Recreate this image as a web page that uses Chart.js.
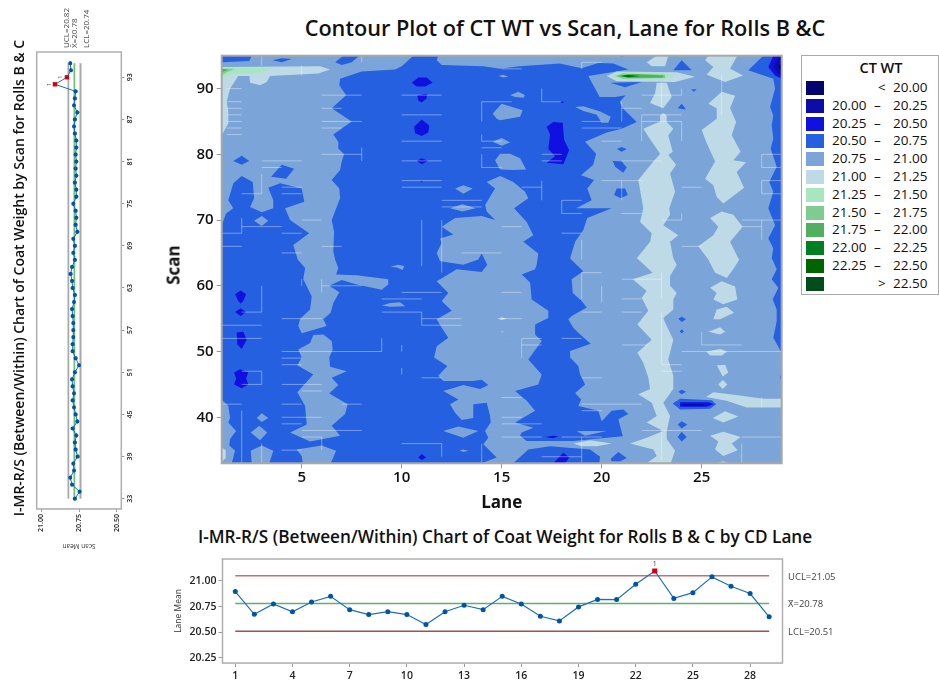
<!DOCTYPE html>
<html>
<head>
<meta charset="utf-8">
<title>Contour Plot of CT WT</title>
<script src="https://cdn.jsdelivr.net/npm/chart.js@4"></script>
<style>
  body { margin: 0; background: #fff; font-family: "Open Sans", sans-serif; color: #111; overflow: hidden; }
  .box { position: absolute; }
  canvas { display: block; }
  .heading { position: absolute; font-weight: 600; white-space: nowrap; text-align: center; }
  #legend { position: absolute; left: 801px; top: 55px; width: 136px; height: 238px; border: 1px solid #aaa; font-size: 13.5px; font-weight: 500; }
  #legend .ttl { position: absolute; left: 0; width: 100%; top: 2px; text-align: center; font-weight: 600; font-size: 14.5px; margin-left: 11px; }
  #legend .sw { position: absolute; left: 4px; width: 18px; height: 14px; }
  #legend span { position: absolute; white-space: nowrap; }
</style>
</head>
<body>
<div class="heading" id="mainTitle" style="left:265px;top:13px;width:600px;font-size:21.7px">Contour Plot of CT WT vs Scan, Lane for Rolls B &amp;C</div>
<div class="box" style="left:150px;top:40px"><canvas id="contour" width="650" height="480"></canvas></div>
<div class="heading" style="left:173px;top:265px;font-size:17px;font-weight:700;transform:translate(-50%,-50%) rotate(-90deg)">Scan</div>
<div id="legend"></div>

<div class="heading" id="laneTitle" style="left:198px;top:525px;width:600px;font-size:17.2px">I-MR-R/S (Between/Within) Chart of Coat Weight for Rolls B &amp; C by CD Lane</div>
<div class="box" style="left:160px;top:545px"><canvas id="laneChart" width="779" height="138"></canvas></div>

<!-- the scan chart is the same kind of chart, just turned on its side -->
<div class="box" id="scanWrap" style="left:0;top:560px;width:560px;height:160px;transform-origin:0 0;transform:rotate(-90deg)">
  <div class="heading" id="scanTitle" style="left:0;width:564px;top:9px;font-size:14px">I-MR-R/S (Between/Within) Chart of Coat Weight by Scan for Rolls B &amp; C</div>
  <canvas id="scanChart" width="560" height="160"></canvas>
</div>

<script>
// --- LEGEND ---
const levelLow = ['', '20.00', '20.25', '20.50', '20.75', '21.00', '21.25', '21.50', '21.75', '22.00', '22.25', ''];
const levelHigh = ['< 20.00', '20.25', '20.50', '20.75', '21.00', '21.25', '21.50', '21.75', '22.00', '22.25', '22.50', '> 22.50'];
const levelColors = ['#04046e', '#0c0ca8', '#1010e0', '#2460e0', '#7ba4d8', '#bedae6', '#a8e6c0', '#80cc90', '#50b060', '#008020', '#006400', '#004d1a'];

// --- CONTOUR AXES ---
const laneTicks = [5, 10, 15, 20, 25];
const scanTicks = [40, 50, 60, 70, 80, 90];

// --- CONTOUR REGIONS, as [lane, scan] outlines ---
const wholePlot = [[[1, 33], [29, 33], [29, 95], [1, 95]]];

// 20.50 - 20.75, the big connected region
const mainDark = [[
  [1, 95], [11.83, 95], [11.75, 94.3], [12, 93.6], [14.08, 93.4], [14.92, 93], [15.9, 93.4], [17.9, 93.8], [19, 93.1], [19.83, 93.9], [20.58, 93.8], [21.33, 92.9],
  [19.33, 91.9], [19.9, 88.7], [20.67, 88.7], [21.2, 89], [20.9, 88], [21.05, 87], [21.75, 84.9], [21, 83.9], [20.25, 83.3], [19.17, 81.9], [19.72, 80.1], [19.58, 78.4],
  [18.97, 76.8], [19.62, 76.1], [19.28, 74.8], [19.5, 73], [18.72, 71.8], [20.5, 71.8], [19.28, 70.3], [19.08, 68.5], [18.67, 66.7], [18.42, 64.2], [18.47, 64],
  [19.08, 62.2], [18.5, 61], [18.55, 58.9], [19, 57.7], [19.25, 56.7], [18.5, 55.4], [18.33, 54.9], [18.58, 53.6], [18.92, 52.6], [19.45, 51.2], [18.42, 50.1], [18.42, 49.1],
  [18.83, 47.8], [18.92, 46.5], [19.17, 45], [18.67, 43.7], [18.97, 42.7], [18.83, 41.7], [19.83, 41], [20, 39.4], [20.5, 41], [21.08, 41.2], [21.33, 40.5], [20.83, 39.7], [21.05, 37.2],
  [21.05, 37.1], [18.58, 36.4], [16.25, 36.4], [15.92, 37.2], [16, 37.7], [16.58, 38.4], [15.67, 39.2], [16.67, 41], [16.25, 42.5], [15.67, 44], [16.83, 45], [17, 46.5],
  [16.33, 48.8], [17, 51.6], [16.67, 52.6], [16.67, 54.1], [17.33, 55.1], [17.33, 56.2], [16.5, 57.9], [16.42, 60.5], [16, 61.7], [16.67, 62.5], [16.75, 63.2], [16.83, 64.9],
  [16.08, 66.7], [16.58, 67.7], [16.25, 69.7], [15.62, 71.8], [16.33, 73.3], [16.17, 74.3], [15.58, 75.8], [14.92, 76.7], [14.25, 75.8], [14.67, 74.8], [14.17, 72.3], [14.25, 71.3],
  [14.67, 70], [14, 70.6], [12.67, 70.3], [12, 69], [12.58, 67.8], [11.92, 67.2], [12, 66.5], [11.75, 65], [11.92, 63.75], [13.08, 63.2], [13.83, 64], [14, 64.9], [14.28, 63.2],
  [14, 62.1], [12.75, 62.5], [11.75, 60.7], [12.33, 58.9], [12, 57.7], [12.5, 56.2], [11.75, 54.9], [12, 53.6], [12.33, 52.1], [11.75, 50.8], [11.62, 49.1], [12.28, 47.8], [11.83, 46.3],
  [12.08, 45.5], [13.58, 45.5], [14, 45.7], [14.33, 44.9], [13.92, 44.3], [13.08, 44.9], [12.08, 44], [12.83, 42.7], [12.42, 42], [12.67, 40.7], [13, 39.6], [13.58, 39.9], [13.58, 42],
  [14.25, 42.2], [14.42, 40.2], [14.45, 39.2], [14.17, 37.9], [14.33, 36.9], [14.08, 35.9], [14.75, 33.9], [14, 33], [1, 33]
]];

// 20.75 - 21.00, patches lying on top of the big region
const lightPatches = [
  [[1, 95], [10.58, 95], [10, 93.4], [9.67, 92.9], [8, 92.6], [6.92, 91.5], [6.88, 90.5], [7.22, 89], [6.5, 87], [7.5, 85], [6.58, 83], [6.83, 81.9], [6.83, 80.9], [7.12, 80], [7, 78.9], [6.92, 77.6],
    [6.5, 76.1], [6.88, 74.8], [6.92, 73.3], [6.5, 70], [6.62, 68.2], [6.58, 65.2], [6.67, 64], [6.83, 62.7], [6.72, 61.7], [7.75, 61.6], [9.33, 61], [9.33, 60.2], [9, 59.4], [7.75, 60.2], [7, 60.9],
    [6.38, 60], [6.88, 59], [6.58, 57.4], [6.45, 55.9], [6.08, 54.9], [6.25, 53.9], [5, 52.8], [4.83, 53.9], [4.92, 55], [5.42, 56.4], [5.5, 58.4], [5.08, 61], [5.17, 62.7], [4.8, 64], [4.58, 66.2],
    [5.37, 68], [4.42, 70], [4.17, 71.8], [5.13, 72.8], [5, 74.8], [3.92, 75.6], [3.33, 74.9], [3.58, 73], [3.58, 71.8], [3, 71.2], [2.42, 72], [2.62, 73.3], [2.55, 75.8], [2, 76.7], [1.58, 75.6],
    [1.33, 73], [1.58, 71.8], [1.22, 71], [1, 69.2]],
  [[6.08, 52.6], [6.5, 51.6], [6.55, 50.3], [6.38, 49.1], [6.42, 47.7], [7.25, 47], [6.5, 46], [6.83, 44.9], [6.38, 43.6], [7.3, 42], [7.17, 40.5], [6.5, 38.7], [6.92, 37.2], [5.42, 36.3], [4.42, 37.7],
    [5.25, 38.9], [5.17, 41.7], [4.78, 43.8], [5.58, 46.5], [4.78, 47.9], [5, 49.1], [4.83, 50.3], [5.42, 51.3], [5.58, 52.5]],
  [[4.75, 35.1], [6, 35.7], [6.72, 34.9], [6.45, 33], [5.05, 33], [5, 34.1]],
  [[2.45, 34.9], [3, 35.7], [3.58, 34.9], [3.38, 33], [2.5, 33]],
  [[2.45, 37.7], [2.88, 38.7], [3.28, 37.7], [2.92, 36.5]],
  [[2.75, 39.9], [3, 40.6], [3.33, 39.9], [3, 39.3]],
  [[1, 42.7], [1.33, 41.7], [1.42, 39.9], [1.33, 39.2], [1.72, 37.9], [1.42, 36.7], [1.38, 35.7], [1.67, 34.9], [1.5, 33], [1, 33]],
  [[2.62, 69.9], [3, 70.6], [3.33, 69.9], [3, 69.1]],
  [[9.42, 62.9], [9.83, 63.2], [10.12, 63], [10.05, 62.4], [9.75, 62.8]],
  [[9, 57], [9.42, 57.4], [9.92, 57.5], [10.17, 56.9], [9.42, 56.8]],
  [[12.08, 37.9], [12.83, 38.6], [13.83, 37.9], [13.08, 36.9]],
  [[12.9, 35], [13.08, 35.1], [13.33, 34.9], [13.08, 34.7]],
  [[12.67, 74.8], [13.08, 75.3], [13.55, 74.8], [13.08, 74]],
  [[12.42, 71.8], [13.03, 72.4], [13.7, 71.8], [13.03, 71.3]],
  [[14.55, 86.2], [15, 87.7], [16.05, 86.7], [15.92, 85.7], [14.92, 85.2], [14.75, 85.4]],
  [[14.55, 81.9], [15, 82.5], [15.42, 81.8], [15, 81.3]],
  [[14.67, 79.1], [14.92, 80.1], [15.42, 80.1], [15.92, 79.4], [16.22, 77.7], [15.58, 77.6], [14.92, 77.7], [14.75, 78.6]],
  [[14.83, 91.9], [15.08, 92.1], [15.33, 91.8], [15.08, 91.7]],
  [[15.42, 89], [15.83, 89.5], [16.17, 89], [16.08, 88.6], [15.67, 88.7]],
  [[18.67, 87.2], [19.08, 87.3], [19.92, 86.5], [20.45, 85.7], [20.33, 84.8], [20, 84.8], [19.75, 86], [19.08, 86.6]],
  [[18.75, 37.9], [20.25, 37.9], [19.17, 37.2]],
  [[15.18, 51.7], [15.4, 51.8], [15.5, 51.5], [15.25, 51.4]]
];

// 20.50 - 20.75 again, islands in the lighter areas
const darkIslands = [
  [[1.58, 79], [2, 79.8], [2.38, 79], [2, 78.4]],
  [[3.47, 76.6], [4, 78.4], [4.62, 77.8], [4.22, 76.3]],
  [[1, 95], [2.5, 95], [2.38, 94.2], [1, 94]],
  [[3.55, 94.3], [4, 94.6], [4.5, 94.5], [4, 94]],
  [[6.67, 94], [7.08, 95], [7.88, 95], [7.5, 94], [7, 93.6]],
  [[15.58, 33], [16.33, 35.1], [17.42, 35.6], [19.42, 35.1], [19.92, 34], [19.88, 33]],
  [[20.45, 33.7], [20.83, 34.7], [21.25, 33.8], [20.92, 33.3], [20.5, 33.3]],
  [[20.75, 80.8], [21, 81.1], [21.25, 80.8], [21, 80.4]],
  [[20.55, 79], [21, 78.9], [21.25, 78], [21.08, 77.2], [20.67, 78.1]],
  [[20.62, 73.8], [20.75, 74.8], [21.17, 74.8], [21.3, 73.8], [20.95, 73.3]],
  [[23.58, 92.8], [24, 94.3], [24.5, 92.8]],
  [[23.8, 87], [24, 87.7], [24.22, 86.8]],
  [[24.47, 89.9], [24.75, 89.9], [24.6, 89.5]],
  [[20.88, 95], [21.17, 95], [21, 94.8]],
  [[23.83, 55], [24, 55.3], [24.22, 54.9], [24, 54.5]],
  [[23.9, 53], [24, 53.4], [24.12, 53], [24, 52.8]],
  [[23.83, 43.9], [24, 44.2], [24.22, 43.9], [24, 43.5]],
  [[23.8, 38.9], [24, 39.4], [24.28, 38.9], [24, 38.3]],
  [[23.8, 37], [24, 37.8], [24.25, 37], [24, 36.3]],
  [[23.55, 42.1], [23.92, 42.8], [25.5, 42.6], [25.72, 42], [25.42, 41.3], [23.92, 41.2]],
  [[20.42, 90.9], [21.17, 90.2], [22, 91]],
  [[27.33, 92.8], [28.08, 95], [29, 95], [29, 49.8], [28.58, 52.1], [28.75, 54.6], [28.75, 56.4], [28.55, 57.9], [28.83, 59.7], [28.5, 61], [28.75, 62.5], [28.58, 63.7], [28.5, 64.2], [28.58, 65.7],
    [28.33, 67.2], [28.67, 69.2], [28.33, 71.8], [28.58, 74.3], [28.38, 75.8], [28.75, 78.1], [28.45, 80.9], [28.58, 82.4], [28.5, 84.4], [28.58, 85.9], [28.42, 87.2], [28.67, 90], [28.58, 91.5]],
  [[29, 47], [28.92, 46], [29, 45.5]]
];

// 21.00 - 21.25
const paleBands = [
  [[1, 93.3], [5.92, 93.4], [6.42, 92.9], [5.83, 92.3], [3.42, 91.9], [3.25, 91], [2.92, 90.5], [2.42, 90.9], [2.38, 91.9], [1.83, 91.9], [1.42, 90], [1.25, 88], [1.33, 86.5], [1.33, 84.7], [1, 82.9]],
  [[1, 35.4], [1.2, 35], [1.2, 33.8], [1, 33.2]],
  [[22.25, 94], [22.75, 95], [23.33, 95], [23.17, 93.4], [22.5, 93.4]],
  [[20.25, 91.9], [20.75, 92.6], [23.75, 92.5], [24.67, 91.8], [23.67, 91], [20.75, 91.1]],
  [[22.75, 90.9], [23.25, 90.9], [23.5, 88.7], [23.08, 87], [22.42, 87.8], [22.67, 89.3]],
  [[22.92, 85.9], [23.08, 86.3], [23.25, 85.9], [23.25, 84.9], [23.58, 83.9], [23.33, 82.9], [23.55, 80.4], [23.33, 79.9], [23.72, 78.4], [23.42, 77.1], [23.67, 74.3], [23.38, 71.8], [23.42, 70.8],
    [23.08, 69.2], [23.83, 67.7], [23.42, 66.7], [23.58, 64.2], [23.75, 63.2], [23.42, 61.5], [23.42, 60], [23.75, 58.9], [23.58, 57.9], [23.58, 56.4], [23.08, 55.1], [23.17, 54.4], [23.58, 51.8],
    [23.33, 48.8], [23.58, 46.3], [23.58, 44.3], [23.08, 42.2], [23.42, 40.2], [23.25, 37.9], [23.25, 36.7], [23.67, 34.9], [23.45, 33], [22.25, 33], [22.75, 34.1], [22.58, 35.1], [21.42, 36], [22.25, 36.9],
    [23.08, 37.9], [22.25, 39.2], [22.75, 40.2], [22.5, 42.2], [21.83, 43.5], [22.42, 44.3], [22.33, 46], [22.08, 48.3], [21.78, 49.8], [22.5, 51.8], [21.78, 54.1], [22.33, 56.2], [22, 58.2], [22.25, 59.2],
    [21.55, 61], [22.55, 62], [21.83, 64], [21.75, 64.2], [22.42, 66.7], [22.5, 68], [21.92, 69.7], [22.08, 71.8], [21.83, 76.1], [22.5, 78.6], [22.92, 80.1], [22.33, 82.7], [22.08, 83.9], [22.92, 85]],
  [[25.17, 94.3], [25.33, 95], [26.78, 95], [26.42, 93], [27.08, 92], [26.17, 91], [25.25, 92.1], [25.58, 93.3]],
  [[25.33, 87.7], [26, 89.5], [26.67, 88.9], [26.42, 87], [26.72, 84.9], [26.5, 82.9], [26.95, 80.4], [26.58, 79.1], [27.22, 78.8], [26.75, 77.3], [27.12, 74.9], [26.08, 72.5], [25.75, 73.5], [25.58, 75.3],
    [25.17, 76.3], [25.67, 78.9], [25.22, 81.9], [25, 83.7], [25.75, 85.4], [25.75, 87]],
  [[25.42, 70.3], [26, 71.3], [26.58, 70.8], [27.05, 69], [26.42, 66.7], [26.83, 64.2], [26.88, 64], [26.58, 62.5], [26.25, 61.2], [25.67, 62], [25.33, 64], [24.83, 66], [25.58, 67.7], [25.83, 69]],
  [[25.42, 59.7], [26, 60.7], [26.67, 59.9], [26.78, 57.9], [26.08, 57.2], [25.58, 57.9], [25.75, 58.9]],
  [[25.75, 56.4], [26.25, 56.8], [26.62, 55.9], [25.92, 54.9], [25.58, 54.9]],
  [[25.33, 53], [25.92, 53.7], [26.17, 53], [25.92, 52.6]],
  [[25.22, 50], [25.92, 50.4], [26.28, 50], [26, 49.4], [25.42, 49.4]],
  [[25.75, 47.9], [26.17, 48], [26.33, 46.8], [26.05, 46.2]],
  [[25.83, 45], [26.05, 45.7], [26.28, 45], [26.05, 44.3]],
  [[25.22, 43.1], [25.58, 43.8], [26.42, 43.5], [28.08, 42.8], [29, 42.8], [29, 41.5], [27.25, 41.5], [26.25, 42.5]],
  [[25.55, 39.9], [26.17, 40.9], [26.83, 40.1], [26.08, 39.2]],
  [[25.42, 37.2], [26.08, 37.8], [26.95, 37], [26.5, 36], [26.8, 35], [26.08, 34.1], [25.67, 35.1], [25.83, 36.3]],
  [[25.72, 33], [26.05, 33.3], [26.42, 33]],
  [[18.58, 36], [19.42, 36.5], [20.5, 36], [19.75, 35.6], [19, 35.6]],
  [[14.8, 55], [15, 55.2], [15.25, 55], [15, 54.8]],
  [[14.95, 53], [15.05, 53.1], [15.1, 52.9]]
];

// 21.25 and up, the two hot streaks near scan 92
const green2125 = [[[1, 93.3], [3.58, 93.1], [2.92, 92.4], [1.58, 92.3], [1.05, 91.5], [1, 91.5]], [[20.42, 91.9], [21.08, 92.5], [23.08, 92.4], [23.75, 91.9], [23.08, 91.4], [21.08, 91.3]]];
const green2150 = [[[1, 93], [1.67, 93], [1.25, 92.5], [1, 92]], [[20.67, 91.9], [21.08, 92.3], [23.17, 92.1], [23.17, 91.6], [21.08, 91.5]]];
const green2175 = [[[1, 93], [1.33, 92.9], [1, 92.5]], [[20.78, 91.9], [21.58, 92.2], [23.08, 92], [23.08, 91.7], [21.58, 91.6]]];
const green2200 = [[[20.92, 91.9], [21.33, 92.1], [21.92, 91.9], [21.33, 91.7]]];
const green2225 = [[[21.08, 91.95], [21.33, 92], [21.58, 91.9], [21.33, 91.8]]];

// 20.25 - 20.50
const deepSpots = [
  [[10.5, 90.9], [10.83, 91.7], [11.25, 91.7], [11.55, 90.9], [11.17, 90.3], [10.75, 90.3]],
  [[10.78, 89], [11.25, 89.2], [11.25, 88.5], [11, 87.9], [10.83, 88.2]],
  [[10.62, 84.2], [11, 85.3], [11.38, 84.4], [11.33, 83.3], [11, 82.8], [10.67, 83.2]],
  [[10.75, 79], [11, 79.4], [11.33, 79], [11, 78.5]],
  [[10.95, 75.9], [11.05, 76], [11, 75.7]],
  [[1.67, 58.7], [1.95, 59.3], [2.22, 58.7], [2.08, 57.7], [1.95, 57.3], [1.83, 57.7]],
  [[1.67, 56], [1.95, 56.6], [2.22, 56], [1.95, 55.4]],
  [[1.75, 52.9], [2.08, 53], [2.25, 51.8], [2, 50.4], [1.78, 51.1]],
  [[1.62, 46.8], [1.92, 47.3], [2.33, 46.8], [2.22, 45.9], [2.33, 45], [2, 44.4], [1.62, 45], [1.72, 45.9]],
  [[10.83, 33.9], [11, 34.4], [11.22, 33.9], [11, 33.5]],
  [[17.25, 84.2], [17.58, 84.9], [18.05, 84.8], [18.12, 82.2], [18.37, 80.6], [18.08, 78.5], [17.25, 78.7], [17.67, 79.7], [17.33, 80.8], [17.42, 83]],
  [[17.9, 88], [18, 88.1], [18.13, 87.9], [18, 87.8]],
  [[17.58, 33], [18.08, 34.6], [18.38, 33.9], [18.17, 33]],
  [[17.17, 37], [17.58, 37.2], [17.83, 37.1], [17.58, 36.8]],
  [[23.92, 42.3], [25.33, 42.3], [25.6, 42], [25.25, 41.6], [23.92, 41.6]],
  [[28.33, 93.3], [28.58, 95], [29, 95], [29, 91.5], [28.67, 92]]
];
const deep2000 = [[[24.08, 42], [25.08, 42], [25.08, 41.7], [24.08, 41.7]], [[28.6, 93.3], [28.8, 94.6], [29, 94.8], [29, 92], [28.8, 92.4]]];
const deep1975 = [[[28.83, 93.3], [29, 94], [29, 92.5]]];

// Pale seams the plotting package leaves along its grid cells
const seamRows = [ // [scan, lane from, lane to]
  [90, 1.25, 2], [89, 6, 8], [89, 10, 12], [88, 1.25, 2], [88, 14, 15.5], [87, 1.25, 2], [87, 6, 7], [86, 1.25, 2], [86, 10, 12], [85, 6, 8], [85, 1.25, 2], [84, 1.25, 2], [84, 6, 7], [83, 1.25, 2],
  [82, 10, 12], [82, 14, 15], [81, 14, 15], [80, 6, 8], [79, 3, 5], [79, 10, 12], [78, 3, 4], [78, 14, 15], [76, 10, 12], [75, 10, 12], [75, 4, 5], [74, 2, 3], [74, 4, 5], [73, 12, 14], [72, 12, 14],
  [70, 5, 6], [69, 2, 4], [68, 1, 2], [68, 4, 5], [66, 1, 2], [66, 6, 7], [65, 4, 5], [65, 13, 15],
  [94, 19, 20], [93, 15, 16], [88, 17, 18], [89, 22, 24], [87, 21, 22], [86, 22, 24], [85, 19, 20], [84, 19, 21], [85, 22, 24], [82, 20, 21], [80, 17, 18], [79, 17, 18], [79, 21, 23], [76, 21, 22], [76, 20, 21],
  [75, 16, 17], [75, 24, 25], [73, 18, 19], [71, 18, 19], [70, 23, 24], [71, 21, 22], [69, 15, 16], [69, 27, 28], [68, 18, 19], [66, 24, 25], [80, 28, 29], [78, 28, 29], [76, 28, 29], [74, 28, 29], [70, 27, 29],
  [62, 19, 20], [61, 21, 23], [59, 15, 16], [58, 21, 22], [56, 19, 20], [56, 21, 22], [55, 15, 16], [52, 16, 17], [52, 18, 19], [51, 16, 17], [51, 21, 22.3], [51, 25, 27], [50, 24, 29], [48, 23, 24], [47, 23, 24],
  [46, 19, 20], [43, 15, 16], [42, 19, 22], [41, 19, 20], [40, 15, 16], [39, 15, 17], [38, 22, 25], [37, 15, 17], [37, 18, 20], [37, 27, 29], [34, 17, 19],
  [60, 6, 8], [59, 10, 12], [58, 9, 11], [56, 2, 3], [56, 9, 11], [55, 4, 6], [55, 11, 13], [54, 1, 3], [54, 11, 13], [52, 1, 3], [50, 4, 9], [49, 4, 5], [48, 4, 5], [47, 2, 3], [45, 2, 3], [45, 4, 6], [46, 11, 12],
  [44, 5, 6], [42, 1, 2], [42, 4, 5], [42, 7, 8], [40, 4, 6], [39, 4, 5], [38, 5, 8], [37, 5, 6], [36, 10, 12], [35, 4, 5]
];
const seamCols = [ // [lane, scan from, scan to]
  [3, 93.5, 95], [5, 92, 93.5], [8, 94, 95], [2, 68, 70.3], [3, 74, 77], [14, 85, 88], [14, 82, 83], [14, 78, 80], [11, 63, 70], [8, 79, 81], [12, 62, 70],
  [17, 88, 90], [24, 89, 90], [21, 85, 88], [19, 93, 94], [22, 82, 86], [24, 82, 85], [17, 73, 76], [21, 73, 76], [18, 71, 73], [24, 70, 71], [19, 64, 67], [23, 87, 91], [28, 78, 80], [28, 74, 76], [28, 67, 70], [26, 89, 92], [26, 86, 89],
  [19, 58, 62], [20, 57.5, 60], [23, 58, 62], [23, 48, 56], [16, 49, 52], [25, 51, 53], [28, 41.5, 43], [19, 33, 37], [23, 33.5, 38], [27, 33, 36],
  [3, 56, 60], [11, 54, 56], [9, 50, 52], [3, 45, 47], [2, 33, 41], [3, 33, 36], [12, 34, 36], [14, 33, 36], [6, 35, 37], [10, 46.5, 47.5], [10, 50, 51], [6, 59, 61], [5, 60, 61]
];

// --- CONTROL CHARTS ---
const laneNumbers = [1, 2, 3, 4, 5, 6, 7, 8, 9, 10, 11, 12, 13, 14, 15, 16, 17, 18, 19, 20, 21, 22, 23, 24, 25, 26, 27, 28, 29];
const laneMeans = [20.896, 20.675, 20.776, 20.70, 20.795, 20.85, 20.72, 20.672, 20.70, 20.672, 20.575, 20.70, 20.763, 20.72, 20.85, 20.776, 20.656, 20.61, 20.747, 20.82, 20.818, 20.968, 21.097, 20.83, 20.886, 21.04, 20.948, 20.877, 20.65];
const laneLimits = { ucl: 21.05, center: 20.78, lcl: 20.51 };
const laneTickValues = [1, 4, 7, 10, 13, 16, 19, 22, 25, 28];
const laneMeanTicks = [20.25, 20.5, 20.75, 21];

const scanNumbers = [33, 34, 35, 36, 37, 38, 39, 40, 41, 42, 43, 44, 45, 46, 47, 48, 49, 50, 51, 52, 53, 54, 55, 56, 57, 58, 59, 60, 61, 62, 63, 64, 65, 66, 67, 68, 69, 70, 71, 72, 73, 74, 75, 76, 77, 78, 79, 80, 81, 82, 83, 84, 85, 86, 87, 88, 89, 90, 91, 92, 93, 94, 95];
const scanMeans = [20.777, 20.746, 20.796, 20.808, 20.783, 20.788, 20.759, 20.772, 20.777, 20.768, 20.792, 20.761, 20.772, 20.783, 20.792, 20.783, 20.792, 20.796, 20.777, 20.75, 20.772, 20.792, 20.792, 20.788, 20.788, 20.788, 20.792, 20.796, 20.783, 20.777, 20.792, 20.796, 20.805, 20.796, 20.777, 20.788, 20.777, 20.788, 20.761, 20.772, 20.768, 20.772, 20.788, 20.768, 20.768, 20.777, 20.768, 20.772, 20.768, 20.772, 20.768, 20.768, 20.777, 20.783, 20.777, 20.761, 20.783, 20.777, 20.772, 20.909, 20.83, 20.803, 20.808];
const scanLimits = { ucl: 20.82, center: 20.78, lcl: 20.74 };
const scanTickValues = [33, 39, 45, 51, 57, 63, 69, 75, 81, 87, 93];
const scanMeanTicks = [20.5, 20.75, 21];

const FONT = '"Open Sans", sans-serif';
const frameColor = '#b0b0b0';

// Build the legend box from the level lists
const legendBox = document.getElementById('legend');
legendBox.innerHTML = '<div class="ttl">CT WT</div>' + levelColors.map((color, i) => {
    const top = 25 + i * 17.8;
    const low = levelLow[i];
    const high = levelHigh[i];
    if (!low) {
        const parts = high.split(' ');
        return `<div class="sw" style="top:${top}px;background:${color}"></div>
                <span style="left:76px;top:${top - 3}px">${parts[0].replace('<', '&lt;').replace('>', '&gt;')}</span>
                <span style="left:91px;top:${top - 3}px">${parts[1]}</span>`;
    }
    return `<div class="sw" style="top:${top}px;background:${color}"></div>
            <span style="left:30px;top:${top - 3}px">${low}</span>
            <span style="left:72px;top:${top - 3}px">&ndash;</span>
            <span style="left:91px;top:${top - 3}px">${high}</span>`;
}).join('');

// Chart.js clips a 'shape' fill between the x of its first and last points,
// so start at the leftmost point and finish on the rightmost one.
function closedShape(points) {
    let first = 0, last = 0;
    points.forEach((p, i) => {
        if (p[0] < points[first][0]) first = i;
        if (p[0] > points[last][0]) last = i;
    });
    const turned = points.slice(first).concat(points.slice(0, first));
    return turned.concat([turned[0], points[last]]).map(p => ({ x: p[0], y: p[1] }));
}

// Paint order, first one goes underneath
const layers = [
    [wholePlot, 4], [mainDark, 3], [lightPatches, 4], [darkIslands, 3], [paleBands, 5],
    [green2125, 6], [green2150, 7], [green2175, 8], [green2200, 9], [green2225, 10],
    [deepSpots, 2], [deep2000, 1], [deep1975, 0]
];
const contourSets = [];
layers.forEach(([shapes, level]) => {
    shapes.forEach(points => {
        contourSets.push({
            data: closedShape(points),
            showLine: true,
            fill: 'shape',
            backgroundColor: levelColors[level],
            borderWidth: 0,
            pointRadius: 0,
            order: -contourSets.length
        });
    });
});

// One line dataset with gaps for all the seams
const seamPoints = [];
seamRows.forEach(([scan, a, b]) => seamPoints.push({ x: a, y: scan }, { x: b, y: scan }, { x: NaN, y: NaN }));
seamCols.forEach(([lane, a, b]) => seamPoints.push({ x: lane, y: a }, { x: lane, y: b }, { x: NaN, y: NaN }));
contourSets.push({
    data: seamPoints,
    showLine: true,
    spanGaps: false,
    borderColor: 'rgba(255,255,255,0.38)',
    borderWidth: 1,
    pointRadius: 0,
    order: -contourSets.length
});

const plotFrame = {
    id: 'plotFrame',
    afterDraw(chart, args, opts) {
        const { left, top, width, height } = chart.chartArea;
        const ctx = chart.ctx;
        ctx.save();
        ctx.strokeStyle = opts.color;
        ctx.lineWidth = opts.width;
        ctx.strokeRect(left, top, width, height);
        ctx.restore();
    }
};

new Chart(document.getElementById('contour'), {
    type: 'scatter',
    data: { datasets: contourSets },
    plugins: [plotFrame],
    options: {
        responsive: false,
        animation: false,
        layout: { padding: { top: 15.7, right: 18.3, left: 0, bottom: 7 } },
        plugins: { legend: { display: false }, tooltip: { enabled: false }, plotFrame: { color: '#a8a8a8', width: 2 } },
        scales: {
            x: {
                type: 'linear', min: 1, max: 29,
                afterBuildTicks: s => { s.ticks = laneTicks.map(value => ({ value })); },
                afterFit: s => { s.height = 49.7; },
                grid: { drawOnChartArea: false, tickLength: 5, tickColor: '#999' },
                ticks: { color: '#111', font: { family: FONT, size: 15, weight: '600' }, padding: 0 },
                title: { display: true, text: 'Lane', color: '#111', font: { family: FONT, size: 17, weight: '700' }, padding: 0 }
            },
            y: {
                type: 'linear', min: 33, max: 95,
                afterBuildTicks: s => { s.ticks = scanTicks.map(value => ({ value })); },
                afterFit: s => { s.width = 71.7; },
                grid: { drawOnChartArea: false, tickLength: 5, tickColor: '#999' },
                ticks: { color: '#111', font: { family: FONT, size: 15, weight: '600' }, padding: 3 }
            }
        }
    }
});

// Shared I-MR chart, used flat for the lanes and rotated for the scans
const limitLabels = {
    id: 'limitLabels',
    afterDraw(chart, args, opts) {
        const ctx = chart.ctx;
        const yScale = chart.scales.y;
        const xScale = chart.scales.x;
        ctx.save();
        ctx.fillStyle = '#444';
        ctx.font = `${opts.size}px ${FONT}`;
        ctx.textBaseline = 'middle';
        opts.items.forEach(item => {
            ctx.fillText(item.text, chart.chartArea.right + opts.gap, yScale.getPixelForValue(item.value) + item.shift);
        });
        // rule 1 flags above the points that are out of control
        ctx.font = `${opts.flagSize}px ${FONT}`;
        ctx.textAlign = 'center';
        opts.xs.forEach((x, i) => {
            if (opts.ys[i] > opts.ucl || opts.ys[i] < opts.lcl) {
                ctx.fillText('1', xScale.getPixelForValue(x), yScale.getPixelForValue(opts.ys[i]) - opts.flagGap);
            }
        });
        ctx.restore();
    }
};

function limitLine(xs, value, color, width) {
    return {
        data: [{ x: xs[0], y: value }, { x: xs[xs.length - 1], y: value }],
        showLine: true, borderColor: color, borderWidth: width, pointRadius: 0, order: 2
    };
}

function controlChart(id, xs, ys, limits, cfg) {
    const flagged = c => ys[c.dataIndex] > limits.ucl || ys[c.dataIndex] < limits.lcl;
    return new Chart(document.getElementById(id), {
        type: 'scatter',
        data: {
            datasets: [
                {
                    data: xs.map((x, i) => ({ x, y: ys[i] })),
                    showLine: true,
                    borderColor: '#1a6fc0',
                    borderWidth: cfg.lineWidth,
                    pointStyle: c => flagged(c) ? 'rect' : 'circle',
                    pointRadius: c => flagged(c) ? cfg.radius * 1.45 : cfg.radius,
                    pointBackgroundColor: c => flagged(c) ? '#d40012' : '#0054a6',
                    pointBorderWidth: 0,
                    order: 1
                },
                limitLine(xs, limits.ucl, cfg.uclColor, cfg.limitWidth),
                limitLine(xs, limits.center, cfg.centerColor, cfg.limitWidth),
                limitLine(xs, limits.lcl, cfg.lclColor, cfg.limitWidth)
            ]
        },
        plugins: [plotFrame, limitLabels],
        options: {
            responsive: false,
            animation: false,
            layout: { padding: cfg.padding },
            plugins: {
                legend: { display: false },
                tooltip: { enabled: false },
                plotFrame: { color: frameColor, width: 1.5 },
                limitLabels: {
                    size: cfg.labelSize, gap: cfg.labelGap, items: cfg.labels, xs, ys,
                    ucl: limits.ucl, lcl: limits.lcl, flagSize: cfg.flagSize, flagGap: cfg.flagGap
                }
            },
            scales: {
                x: {
                    type: 'linear', min: cfg.xMin, max: cfg.xMax,
                    afterBuildTicks: s => { s.ticks = cfg.xTicks.map(value => ({ value })); },
                    afterFit: s => { s.height = cfg.xHeight; },
                    grid: { drawOnChartArea: false, tickLength: cfg.tickLength, tickColor: '#999' },
                    ticks: { color: '#222', font: { family: FONT, size: cfg.tickSize, weight: '600' }, padding: cfg.xTickPad, maxRotation: 0 }
                },
                y: {
                    type: 'linear', min: cfg.yMin, max: cfg.yMax,
                    afterBuildTicks: s => { s.ticks = cfg.yTicks.map(value => ({ value })); },
                    afterFit: s => { s.width = cfg.yWidth; },
                    grid: { drawOnChartArea: false, tickLength: cfg.tickLength, tickColor: '#999' },
                    ticks: { color: '#222', font: { family: FONT, size: cfg.tickSize, weight: '600' }, padding: 2, callback: v => v.toFixed(2) },
                    title: { display: true, text: cfg.yTitle, color: '#333', font: { family: FONT, size: cfg.titleSize }, padding: 0 }
                }
            }
        }
    });
}

controlChart('laneChart', laneNumbers, laneMeans, laneLimits, {
    padding: { top: 14, right: 156.5, left: 13, bottom: 0 },
    xMin: 0.33, xMax: 29.7, yMin: 20.2, yMax: 21.214,
    xTicks: laneTickValues, yTicks: laneMeanTicks,
    xHeight: 20, yWidth: 49.5, tickLength: 4, tickSize: 10.5, xTickPad: 3, titleSize: 8.5,
    yTitle: 'Lane Mean',
    lineWidth: 1.2, limitWidth: 1.5, radius: 2.5,
    uclColor: '#c47070', centerColor: '#5faf6f', lclColor: '#a84c4c',
    labelSize: 9.5, labelGap: 5.5, flagSize: 7, flagGap: 7,
    labels: [
        { text: 'UCL=21.05', value: laneLimits.ucl, shift: 1 },
        { text: 'X\u0304=20.78', value: laneLimits.center, shift: 1 },
        { text: 'LCL=20.51', value: laneLimits.lcl, shift: 1 }
    ]
});

controlChart('scanChart', scanNumbers, scanMeans, scanLimits, {
    padding: { top: 36.7, right: 52, left: 10, bottom: 0 },
    xMin: 31.53, xMax: 96.6, yMin: 20.47, yMax: 21.03,
    xTicks: scanTickValues, yTicks: scanMeanTicks,
    xHeight: 38.7, yWidth: 41, tickLength: 3, tickSize: 7, xTickPad: 1, titleSize: 6.5,
    yTitle: 'Scan Mean',
    lineWidth: 1, limitWidth: 1.8, radius: 2.1,
    uclColor: '#a8a8a8', centerColor: '#6cbf74', lclColor: '#a8a8a8',
    labelSize: 8, labelGap: 4, flagSize: 5.5, flagGap: 6,
    labels: [
        { text: 'UCL=20.82', value: scanLimits.ucl, shift: -1.7 },
        { text: 'X\u0304=20.78', value: scanLimits.center, shift: 0 },
        { text: 'LCL=20.74', value: scanLimits.lcl, shift: 6.3 }
    ]
});
</script>
</body>
</html>
